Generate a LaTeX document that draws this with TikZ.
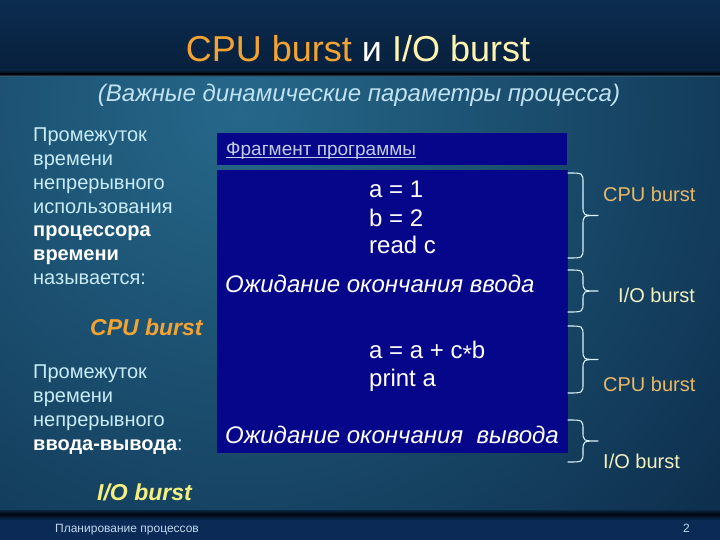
\documentclass[tikz,border=0pt]{standalone}
\usepackage{fontspec}
\setmainfont{Liberation Sans}
\definecolor{bgtop}{HTML}{0C2C50}
\definecolor{bgtopb}{HTML}{07203C}
\definecolor{bgdark}{HTML}{0A2644}
\definecolor{bglight}{HTML}{26688A}
\definecolor{barblack}{HTML}{02060F}
\definecolor{footbg}{HTML}{0B2A55}
\definecolor{boxblue}{HTML}{06068A}
\definecolor{corange}{HTML}{F2A332}
\definecolor{cyellow}{HTML}{FFF3B0}
\definecolor{ltext}{HTML}{C8ECF8}
\definecolor{subc}{HTML}{C0E2F2}
\definecolor{lorange}{HTML}{E8B868}
\definecolor{lyellow}{HTML}{F2F2C0}
\definecolor{iyellow}{HTML}{F4F080}
\definecolor{hdrtext}{HTML}{C4CCEA}
\definecolor{bracec}{HTML}{D8F4FF}
\definecolor{footc}{HTML}{C0D8F0}
\tikzset{
  txt/.style={inner sep=0pt, anchor=base west},
  lt/.style={txt, text=ltext, font=\fontsize{20}{24}\selectfont},
  lb/.style={txt, text=white, font=\fontsize{20}{24}\selectfont\bfseries},
  code/.style={txt, text=white, font=\fontsize{24}{28}\selectfont},
  wait/.style={txt, text=white, font=\fontsize{24}{28}\selectfont\itshape},
  rlab/.style={txt, font=\fontsize{20}{24}\selectfont},
  progbox/.style={fill=boxblue},
  pics/rbrace/.style={code={
    \draw[bracec, line width=1.1pt, line cap=round, line join=round]
      (0,0) .. controls (15,0) .. (15,10) -- (15,{#1/2-10})
      .. controls (15,{#1/2}) .. (30,{#1/2})
      .. controls (15,{#1/2}) .. (15,{#1/2+10}) -- (15,{#1-10})
      .. controls (15,{#1}) .. (0,{#1});
  }}
}
\begin{document}
\begin{tikzpicture}[x=1pt,y=-1pt]
\useasboundingbox (0,0) rectangle (720,540);
% background
\fill[bgdark] (0,0) rectangle (720,540);
\shade[top color=bgtop, bottom color=bgtopb] (0,0) rectangle (720,71);
\begin{scope}
  \clip (0,76) rectangle (720,513);
  \shade[inner color=bglight, outer color=bgdark] (240,110) circle (720);
\end{scope}
\shade[top color=bgtopb, bottom color=barblack] (0,70) rectangle (720,74);
\shade[top color=barblack, bottom color=bglight!85!white] (0,74) rectangle (720,77);
\fill[footbg] (0,513) rectangle (720,540);
\shade[top color=bgdark, bottom color=barblack] (0,510) rectangle (720,514);
\shade[top color=barblack, bottom color=footbg] (0,514) rectangle (720,520);

% title
\node[inner sep=0pt, anchor=base, font=\fontsize{36}{40}\selectfont] (title) at (358,62)
  {\textcolor{corange}{CPU burst} \textcolor{white}{и} \textcolor{cyellow}{I/O burst}};
\node[inner sep=0pt, anchor=base, text=subc, font=\fontsize{24}{28}\selectfont\itshape] (subtitle) at (359,102)
  {(Важные динамические параметры процесса)};

% left column
\node[lt] (l1) at (33,142) {Промежуток};
\node[lt] (l2) at (33,165.7) {времени};
\node[lt] (l3) at (33,189.4) {непрерывного};
\node[lt] (l4) at (33,213.1) {использования};
\node[lb] (l5) at (33,236.8) {процессора};
\node[lb] (l6) at (33,260.5) {времени};
\node[lt] (l7) at (33,284.2) {называется:};
\node[txt, text=corange, font=\fontsize{23}{27}\selectfont\bfseries\itshape] (cpuL) at (90,335) {CPU burst};
\node[lt] (m1) at (33,378) {Промежуток};
\node[lt] (m2) at (33,402) {времени};
\node[lt] (m3) at (33,426) {непрерывного};
\node[txt, font=\fontsize{20}{24}\selectfont] (m4) at (33,450) {\textcolor{white}{\bfseries ввода-вывода}\textcolor{ltext}{:}};
\node[txt, text=iyellow, font=\fontsize{23}{27}\selectfont\bfseries\itshape] (ioL) at (97,500) {I/O burst};

% program boxes
\fill[progbox] (217,133) rectangle (567,165);
\fill[progbox] (217,170) rectangle (568,453);
\node[txt, text=hdrtext, font=\fontsize{19}{22}\selectfont] (hdr) at (226,156) {Фрагмент программы};
\draw[hdrtext, line width=0.7pt] ([yshift=-1.5pt]hdr.base west) -- ([yshift=-1.5pt]hdr.base east);

\node[code] (c1) at (369,198) {a = 1};
\node[code] (c2) at (369,226) {b = 2};
\node[code] (c3) at (369,253) {read c};
\node[wait] (w1) at (225,292) {Ожидание окончания ввода};
\node[code] (c4) at (369,358) {a = a + c\raisebox{-0.35ex}{*}b};
\node[code] (c5) at (369,386) {print a};
\node[wait] (w2) at (225,443) {Ожидание окончания \ вывода};

% braces
\pic at (568,173) {rbrace=85};
\pic at (568,270) {rbrace=42};
\pic at (568,326) {rbrace=67};
\pic at (568,420) {rbrace=42};

% right labels
\node[rlab, text=lorange] (r1) at (603,202) {CPU burst};
\node[rlab, text=lyellow] (r2) at (618,302) {I/O burst};
\node[rlab, text=lorange] (r3) at (603,391) {CPU burst};
\node[rlab, text=lyellow] (r4) at (603,468) {I/O burst};

% footer
\node[txt, text=footc, font=\fontsize{12}{14}\selectfont] (foot) at (55,532) {Планирование процессов};
\node[txt, text=footc, font=\fontsize{12}{14}\selectfont] (pg) at (683,532) {2};
\end{tikzpicture}
\end{document}
